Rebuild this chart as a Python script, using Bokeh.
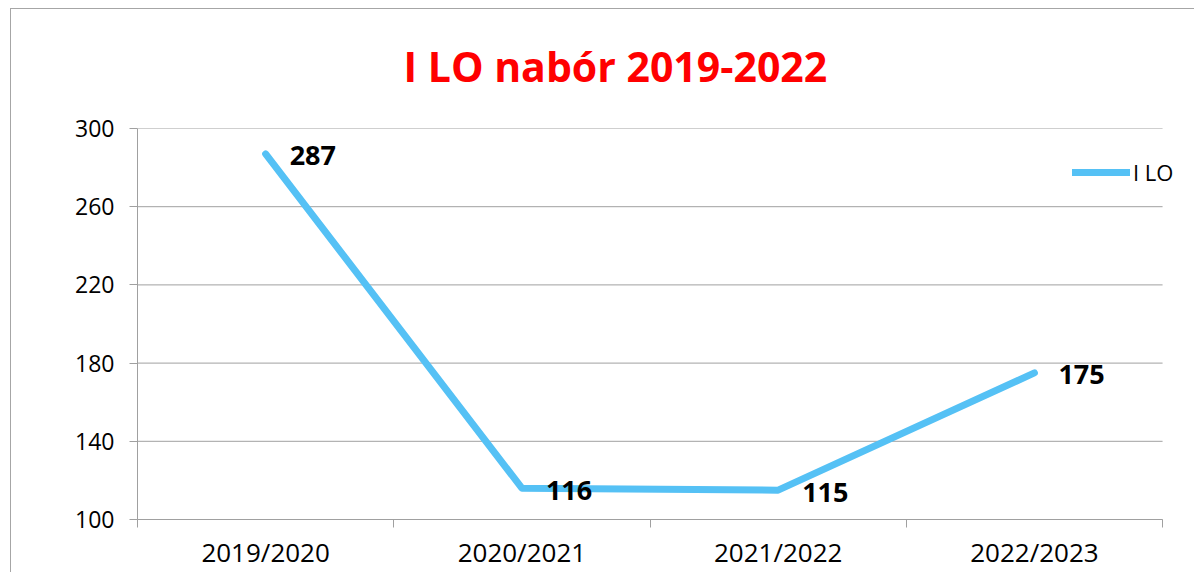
from bokeh.plotting import figure
from bokeh.models import (ColumnDataSource, FixedTicker, LabelSet, Legend,
                          LegendItem, Range1d)
from bokeh.embed import file_html
from bokeh.resources import INLINE
from bokeh.core.properties import value

# ---- data ----
title_text = "I LO nabór 2019-2022"
categories = ["2019/2020", "2020/2021", "2021/2022", "2022/2023"]
values = [287, 116, 115, 175]
series_name = "I LO"
y_ticks = [100, 140, 180, 220, 260, 300]

# ---- styles ----
LINE_COLOR = "#55C1F5"
GRID_COLOR = "#A0A0A0"
BORDER_COLOR = "#A6A6A6"
FONT = "Open Sans"

n = len(categories)
xpos = [i + 0.5 for i in range(n)]
source = ColumnDataSource(dict(x=xpos, y=values, label=[str(v) for v in values]))

# frame extended a little to the right so that the legend is not clipped
p = figure(width=1194, height=572, output_backend="svg", toolbar_location=None,
           x_range=Range1d(0, n + 0.109),
           y_range=Range1d(min(y_ticks), max(y_ticks)),
           min_border_left=137, min_border_right=4,
           min_border_top=128, min_border_bottom=52)
p.outline_line_color = None
p.background_fill_color = "white"
p.border_fill_alpha = 0
# chart-area border (top and left visible), drawn behind the transparent canvas border
p.styles = {
    "background": (f"linear-gradient({BORDER_COLOR},{BORDER_COLOR}) 10px 8px / 1px 100% no-repeat, "
                   f"linear-gradient({BORDER_COLOR},{BORDER_COLOR}) 10px 8px / 100% 1px no-repeat, "
                   "white"),
}

# title
p.title.text = title_text
p.title.align = "left"
p.title.offset = 266
p.title.text_font = FONT
p.title.text_font_style = "bold"
p.title.text_font_size = "41px"
p.title.text_color = "#FF0000"
p.title.standoff = 69

# x axis: labels at category centres, ticks at the category boundaries
xa = p.xaxis[0]
xa.bounds = (0, n)
xa.ticker = FixedTicker(ticks=xpos, minor_ticks=list(range(n + 1)))
xa.major_label_overrides = {x: c for x, c in zip(xpos, categories)}
xa.major_tick_out = 0
xa.major_tick_in = 0
xa.minor_tick_out = 8
xa.minor_tick_in = 0
xa.minor_tick_line_color = GRID_COLOR
xa.axis_line_color = GRID_COLOR
xa.major_label_text_font = FONT
xa.major_label_text_font_size = "26px"
xa.major_label_text_color = "black"
xa.major_label_standoff = 6
p.xgrid.grid_line_color = None

# y axis
ya = p.yaxis[0]
ya.ticker = FixedTicker(ticks=y_ticks)
ya.major_tick_out = 8
ya.major_tick_in = 0
ya.minor_tick_line_color = None
ya.major_tick_line_color = GRID_COLOR
ya.axis_line_color = GRID_COLOR
ya.major_label_text_font = FONT
ya.major_label_text_font_size = "23px"
ya.major_label_text_color = "black"
ya.major_label_standoff = 15
p.ygrid.grid_line_color = None

# horizontal gridlines spanning the category area only
p.segment(x0=0, x1=n, y0=y_ticks, y1=y_ticks, line_color=GRID_COLOR, line_width=1)

# series
r = p.line("x", "y", source=source, line_color=LINE_COLOR, line_width=7,
           line_cap="round", line_join="round")

labels = LabelSet(x="x", y="y", text="label", source=source,
                  x_offset=24, y_offset=-2, text_align="left",
                  text_baseline="middle", text_font=value(FONT),
                  text_font_style="bold", text_font_size="27px",
                  text_color="black")
p.add_layout(labels)

legend = Legend(items=[LegendItem(label=series_name, renderers=[r])],
                location=(935, 332), glyph_width=58, glyph_height=20,
                label_height=20, label_standoff=3, padding=0, margin=0,
                spacing=0, border_line_color=None, background_fill_alpha=0,
                label_text_font=FONT, label_text_font_size="22px",
                label_text_color="black")
p.add_layout(legend)

open("out.html", "w").write(file_html(p, INLINE))
